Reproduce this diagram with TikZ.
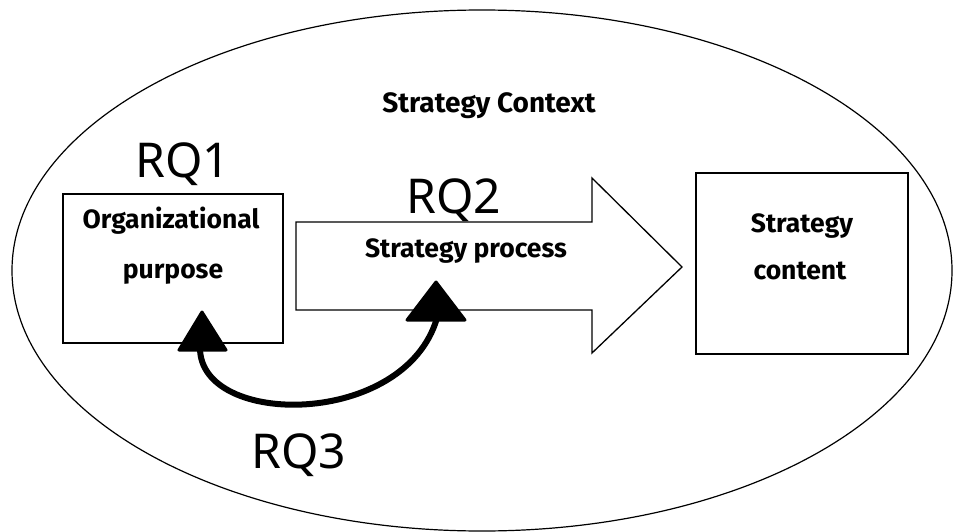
\documentclass[tikz,border=0pt]{standalone}
\usepackage{fontspec}
\setmainfont{Fira Sans}
\newfontfamily\rqfont{Noto Sans}
\begin{document}
\begin{tikzpicture}[x=1pt,y=-1pt,
  outline/.style={draw, line width=1.3pt},
  boxshape/.style={outline, inner sep=0pt},
  lbl/.style={font=\fontsize{26.5}{30}\selectfont\bfseries, inner sep=0pt, anchor=base},
  rq/.style={font=\rqfont\fontsize{48}{56}\selectfont, inner sep=0pt, anchor=base},
  headtip/.style={fill=black, draw=black, line width=3pt, line join=round},
  relation/.style={line width=6pt}]
  \useasboundingbox (0,0) rectangle (953,532);

  % context ellipse
  \draw[line width=1.2pt] (482,270.5) ellipse [x radius=470, y radius=260.5];
  \node[lbl, font=\fontsize{28}{32}\selectfont\bfseries] (ctx) at (489,113) {Strategy Context};

  % organizational purpose box
  \node[boxshape, minimum width=220pt, minimum height=149pt] (purpose) at (173,268.5) {};
  \node[lbl] (purposeA) at (171,228) {Organizational};
  \node[lbl] (purposeB) at (173,278) {purpose};
  \node[rq] (rq1) at (183,178) {RQ1};

  % strategy process arrow
  \draw[outline, line join=miter] (296,222) -- (592,222) -- (592,178) -- (682,267)
    -- (592,353) -- (592,310) -- (296,310) -- cycle;
  \node[lbl] (process) at (466,257) {Strategy process};
  \node[rq] (rq2) at (454,213) {RQ2};

  % strategy content box
  \node[boxshape, minimum width=212pt, minimum height=181pt] (content) at (802,263.5) {};
  \node[lbl] (contentA) at (802,232) {Strategy};
  \node[lbl] (contentB) at (800,279) {content};

  % link between purpose and process, with upright heads at both ends
  \coordinate (baseL) at (200,348);
  \coordinate (baseR) at (437,318);
  \draw[relation] (baseL) .. controls (200,428) and (405,428) .. (baseR);
  \draw[headtip] (202,312) -- (226,350) -- (179,350) -- cycle;
  \draw[headtip] (436,282) -- (465,320) -- (407,320) -- cycle;
  \node[rq] (rq3) at (299,468) {RQ3};
\end{tikzpicture}
\end{document}
